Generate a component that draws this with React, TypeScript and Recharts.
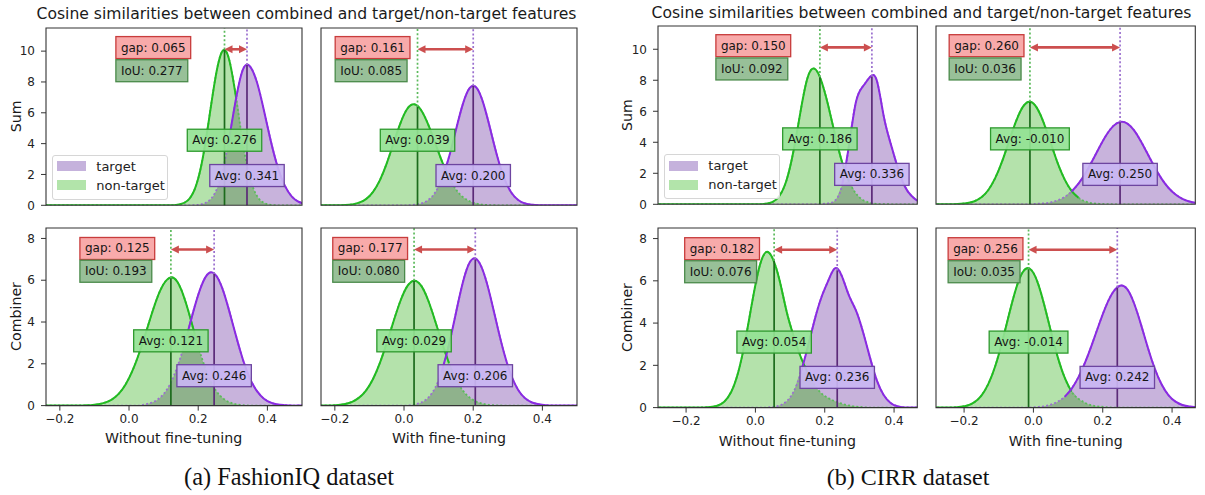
import React from 'react';
import { ComposedChart, Area, Line, XAxis, YAxis, ReferenceLine, ReferenceDot, ReferenceArea, Legend } from 'recharts';

// ---------------- data ----------------
const xGrid = [-0.29, -0.27, -0.25, -0.23, -0.21, -0.19, -0.17, -0.15, -0.13, -0.11, -0.09, -0.07, -0.05, -0.03, -0.01, 0.01, 0.03, 0.05, 0.07, 0.09, 0.11, 0.13, 0.15, 0.17, 0.19, 0.21, 0.23, 0.25, 0.27, 0.29, 0.31, 0.33, 0.35, 0.37, 0.39, 0.41, 0.43, 0.45, 0.47, 0.49, 0.51];

// FashionIQ
const fiqSumBaseNonTarget = [
  0, 0, 0, 0, 0, 0, 0, 0, 0, 0,
  0, 0, 0, 0, 0, 0, 0, 0, 0, 0,
  0, 0.01, 0.08, 0.32, 1.05, 2.7, 5.4, 8.3, 10.0, 9.4,
  6.9, 3.9, 1.75, 0.6, 0.16, 0.03, 0, 0, 0, 0,
  0];
const fiqSumBaseTarget = [
  0, 0, 0, 0, 0, 0, 0, 0, 0, 0,
  0, 0, 0, 0, 0, 0, 0, 0, 0, 0,
  0, 0, 0, 0, 0.01, 0.07, 0.28, 0.87, 2.2, 4.4,
  7.0, 8.85, 9.0, 7.96, 6.15, 4.16, 2.47, 1.29, 0.58, 0.23,
  0.08];
const fiqSumTunedNonTarget = [
  0, 0, 0, 0, 0, 0, 0.02, 0.06, 0.17, 0.40,
  0.86, 1.62, 2.72, 4.05, 5.35, 6.28, 6.55, 6.15, 5.23, 4.04,
  2.83, 1.79, 1.03, 0.54, 0.26, 0.11, 0.04, 0.01, 0, 0,
  0, 0, 0, 0, 0, 0, 0, 0, 0, 0,
  0];
const fiqSumTunedTarget = [
  0, 0, 0, 0, 0, 0, 0, 0, 0, 0,
  0, 0, 0, 0, 0, 0, 0.04, 0.12, 0.34, 0.83,
  1.73, 3.13, 4.88, 6.56, 7.61, 7.61, 6.56, 4.88, 3.13, 1.73,
  0.83, 0.34, 0.12, 0.04, 0.01, 0, 0, 0, 0, 0,
  0];
const fiqCombBaseNonTarget = [
  0, 0, 0, 0, 0, 0, 0, 0, 0.01, 0.02,
  0.06, 0.14, 0.29, 0.56, 1.01, 1.67, 2.54, 3.56, 4.61, 5.5,
  6.03, 6.1, 5.59, 4.61, 3.42, 2.3, 1.39, 0.75, 0.37, 0.16,
  0.06, 0.02, 0, 0, 0, 0, 0, 0, 0, 0,
  0];
const fiqCombBaseTarget = [
  0, 0, 0, 0, 0, 0, 0, 0, 0, 0,
  0, 0, 0, 0, 0, 0, 0, 0.07, 0.17, 0.39,
  0.78, 1.44, 2.37, 3.53, 4.75, 5.77, 6.33, 6.26, 5.6, 4.51,
  3.29, 2.16, 1.28, 0.69, 0.33, 0.14, 0.05, 0.02, 0, 0,
  0];
const fiqCombTunedNonTarget = [
  0, 0, 0, 0, 0.01, 0.03, 0.08, 0.18, 0.38, 0.72,
  1.26, 2.03, 3.0, 4.05, 5.03, 5.73, 5.98, 5.73, 5.03, 4.05,
  3.0, 2.03, 1.26, 0.72, 0.38, 0.18, 0.08, 0.03, 0.01, 0,
  0, 0, 0, 0, 0, 0, 0, 0, 0, 0,
  0];
const fiqCombTunedTarget = [
  0, 0, 0, 0, 0, 0, 0, 0, 0, 0,
  0, 0, 0, 0, 0, 0, 0.05, 0.15, 0.38, 0.85,
  1.69, 2.92, 4.43, 5.89, 6.86, 7.0, 6.37, 5.19, 3.78, 2.47,
  1.44, 0.75, 0.35, 0.15, 0.06, 0.02, 0, 0, 0, 0,
  0];

// CIRR
const cirrSumBaseNonTarget = [
  0, 0, 0, 0, 0, 0, 0, 0, 0, 0,
  0, 0, 0, 0, 0, 0, 0.04, 0.16, 0.57, 1.57,
  3.45, 5.96, 8.13, 8.75, 7.97, 6.37, 4.46, 2.73, 1.47, 0.69,
  0.28, 0.1, 0.03, 0.01, 0, 0, 0, 0, 0, 0,
  0];
const cirrSumBaseTarget = [
  0, 0, 0, 0, 0, 0, 0, 0, 0, 0,
  0, 0, 0, 0, 0, 0, 0, 0, 0, 0,
  0, 0, 0, 0, 0.02, 0.06, 0.25, 1.2, 3.8, 6.6,
  7.6, 8.2, 8.0, 5.7, 3.93, 2.4, 1.2, 0.55, 0.2, 0.06,
  0.02];
const cirrSumTunedNonTarget = [
  0, 0, 0, 0.01, 0.03, 0.08, 0.2, 0.45, 0.92, 1.7,
  2.78, 4.08, 5.36, 6.3, 6.62, 6.22, 5.24, 3.95, 2.66, 1.61,
  0.87, 0.42, 0.18, 0.07, 0.03, 0.01, 0, 0, 0, 0,
  0, 0, 0, 0, 0, 0, 0, 0, 0, 0,
  0];
const cirrSumTunedTarget = [
  0, 0, 0, 0, 0, 0, 0, 0, 0, 0,
  0, 0, 0, 0, 0, 0.03, 0.06, 0.13, 0.26, 0.47,
  0.82, 1.33, 2.0, 2.81, 3.66, 4.45, 5.04, 5.31, 5.22, 4.78,
  4.07, 3.23, 2.39, 1.64, 1.05, 0.63, 0.35, 0.18, 0.08, 0.03,
  0.01];
const cirrCombBaseNonTarget = [
  0, 0, 0, 0, 0, 0, 0, 0.01, 0.03, 0.09,
  0.28, 0.74, 1.65, 3.11, 4.93, 6.56, 7.35, 7.05, 6.0, 4.55,
  3.4, 2.43, 1.68, 1.08, 0.68, 0.45, 0.3, 0.18, 0.1, 0.05,
  0.02, 0, 0, 0, 0, 0, 0, 0, 0, 0,
  0];
const cirrCombBaseTarget = [
  0, 0, 0, 0, 0, 0, 0, 0, 0, 0,
  0, 0, 0, 0, 0, 0, 0, 0.03, 0.1, 0.3,
  0.75, 1.6, 2.8, 4.1, 5.2, 6.0, 6.6, 6.2, 5.3, 4.6,
  3.6, 2.4, 1.3, 0.6, 0.22, 0.06, 0.01, 0, 0, 0,
  0];
const cirrCombTunedNonTarget = [
  0, 0, 0, 0.01, 0.04, 0.1, 0.26, 0.57, 1.12, 1.97,
  3.12, 4.43, 5.64, 6.43, 6.57, 6.02, 4.94, 3.64, 2.4, 1.43,
  0.75, 0.42, 0.22, 0.1, 0.05, 0.02, 0, 0, 0, 0,
  0, 0, 0, 0, 0, 0, 0, 0, 0, 0,
  0];
const cirrCombTunedTarget = [
  0, 0, 0, 0, 0, 0, 0, 0, 0, 0,
  0, 0, 0, 0, 0, 0.03, 0.06, 0.14, 0.28, 0.51,
  0.89, 1.44, 2.17, 3.04, 3.97, 4.83, 5.47, 5.77, 5.62, 4.95,
  3.95, 2.84, 1.85, 1.09, 0.58, 0.28, 0.12, 0.05, 0.02, 0,
  0];

const xTicks = [-0.2, 0, 0.2, 0.4];
const sumYTicks = [0, 2, 4, 6, 8, 10];
const combYTicks = [0, 2, 4, 6, 8];

// per panel (A1, A2, A3, A4, B1, B2, B3, B4)
const avgNonTarget = [0.276, 0.039, 0.121, 0.029, 0.186, -0.010, 0.054, -0.014];
const avgTarget = [0.341, 0.200, 0.246, 0.206, 0.336, 0.250, 0.236, 0.242];
const avgNonTargetText = ['0.276', '0.039', '0.121', '0.029', '0.186', '-0.010', '0.054', '-0.014'];
const avgTargetText = ['0.341', '0.200', '0.246', '0.206', '0.336', '0.250', '0.236', '0.242'];
const gapText = ['0.065', '0.161', '0.125', '0.177', '0.150', '0.260', '0.182', '0.256'];
const iouText = ['0.277', '0.085', '0.193', '0.080', '0.092', '0.036', '0.076', '0.035'];
const nonTargetDensityAtAvg = [10.1, 6.4, 6.1, 5.98, 8.2, 6.62, 6.95, 6.55];
const targetDensityAtAvg = [9.1, 7.75, 6.3, 7.0, 8.25, 5.3, 6.5, 5.68];

const legendLabels = ['target', 'non-target'];
const titleText = 'Cosine similarities between combined and target/non-target features';
const captions = ['(a) FashionIQ dataset', '(b) CIRR dataset'];

const seriesByPanel = [
  [fiqSumBaseTarget, fiqSumBaseNonTarget],
  [fiqSumTunedTarget, fiqSumTunedNonTarget],
  [fiqCombBaseTarget, fiqCombBaseNonTarget],
  [fiqCombTunedTarget, fiqCombTunedNonTarget],
  [cirrSumBaseTarget, cirrSumBaseNonTarget],
  [cirrSumTunedTarget, cirrSumTunedNonTarget],
  [cirrCombBaseTarget, cirrCombBaseNonTarget],
  [cirrCombTunedTarget, cirrCombTunedNonTarget],
];

// ---------------- layout / style ----------------
const FONT = "'DejaVu Sans', 'Noto Sans', sans-serif";
const C = {
  targetFill: '#c8b3dc',
  nonFill: '#b4e2ab',
  overlapFill: '#8fb28c',
  targetLine: '#8a2be2',
  nonLine: '#22bb22',
  targetDot: '#9b70cf',
  nonDot: '#5cba5c',
  targetVert: '#5b2a78',
  nonVert: '#1c6b1c',
  arrow: '#cc4f4f',
  legendTarget: '#c5b2dc',
  legendNon: '#b2e4aa',
};

const sumLevels = { arrow: 10.12, gap: 10.23, iou: 8.73, avgN: 4.22, avgT: 1.93 };
const combLevels = { arrow: 7.47, gap: 7.52, iou: 6.43, avgN: 3.1, avgT: 1.43 };
const domA: [number, number] = [-0.24, 0.5];
const domB: [number, number] = [-0.281, 0.467];

const layouts = [
  { left: 45.7, top: 27.7, w: 256, h: 177.3, xDomain: domA, yMax: 11.5, yTicks: sumYTicks, xLabels: false, yLabels: true, legend: true, gapLeft: -0.038, lv: sumLevels },
  { left: 321, top: 27.7, w: 256, h: 177.3, xDomain: domA, yMax: 11.5, yTicks: sumYTicks, xLabels: false, yLabels: false, legend: false, gapLeft: -0.199, lv: sumLevels },
  { left: 45.7, top: 227.7, w: 256, h: 177.6, xDomain: domA, yMax: 8.5, yTicks: combYTicks, xLabels: true, yLabels: true, legend: false, gapLeft: -0.142, lv: combLevels },
  { left: 321, top: 227.7, w: 256, h: 177.6, xDomain: domA, yMax: 8.5, yTicks: combYTicks, xLabels: true, yLabels: false, legend: false, gapLeft: -0.206, lv: combLevels },
  { left: 657.7, top: 26, w: 259.3, h: 178.3, xDomain: domB, yMax: 11.5, yTicks: sumYTicks, xLabels: false, yLabels: true, legend: true, gapLeft: -0.114, lv: sumLevels },
  { left: 936, top: 26, w: 259.3, h: 178.3, xDomain: domB, yMax: 11.5, yTicks: sumYTicks, xLabels: false, yLabels: false, legend: false, gapLeft: -0.243, lv: sumLevels },
  { left: 657.7, top: 227.7, w: 259.3, h: 179.6, xDomain: domB, yMax: 8.5, yTicks: combYTicks, xLabels: true, yLabels: true, legend: false, gapLeft: -0.204, lv: combLevels },
  { left: 936, top: 227.7, w: 259.3, h: 179.6, xDomain: domB, yMax: 8.5, yTicks: combYTicks, xLabels: true, yLabels: false, legend: false, gapLeft: -0.246, lv: combLevels },
];

let _ctx: any = null;
function textWidth(s: string, size: number) {
  if (!_ctx && typeof document !== 'undefined') _ctx = document.createElement('canvas').getContext('2d');
  if (!_ctx) return s.length * size * 0.6;
  _ctx.font = `${size}px "DejaVu Sans"`;
  return _ctx.measureText(s).width;
}

const LABEL_FS = 12;
function LabelBox({ cx, cy, text, fill, stroke, align }: any) {
  if (cx == null || cy == null) return null;
  const tw = textWidth(text, LABEL_FS);
  const w = tw + 10;
  const h = 22;
  const x = align === 'left' ? cx : cx - w / 2;
  return (
    <g>
      <rect x={x} y={cy - h / 2} width={w} height={h} fill={fill} fillOpacity={0.92} stroke={stroke} strokeWidth={1.3} />
      <text x={x + w / 2} y={cy + 0.33 * LABEL_FS} textAnchor="middle" fontSize={LABEL_FS} fontFamily={FONT} fill="#151515">{text}</text>
    </g>
  );
}

function ArrowShape(p: any) {
  const x1 = Math.min(p.x1, p.x2);
  const x2 = Math.max(p.x1, p.x2);
  const y = p.y1;
  const hl = 8;
  const hw = 4;
  return (
    <g>
      <line x1={x1 + hl * 0.7} x2={x2 - hl * 0.7} y1={y} y2={y} stroke={C.arrow} strokeWidth={2.6} />
      <polygon points={`${x1},${y} ${x1 + hl},${y - hw} ${x1 + hl},${y + hw}`} fill={C.arrow} />
      <polygon points={`${x2},${y} ${x2 - hl},${y - hw} ${x2 - hl},${y + hw}`} fill={C.arrow} />
    </g>
  );
}

function LegendBox() {
  const colors = [C.legendTarget, C.legendNon];
  return (
    <div style={{ width: 116, height: 45, boxSizing: 'border-box', border: '1px solid #d6d6d6', borderRadius: 3, background: 'rgba(255,255,255,0.85)', padding: '1px 0 0 4px', fontFamily: FONT, fontSize: 13, color: '#222' }}>
      {legendLabels.map((lab, i) => (
        <div key={lab} style={{ display: 'flex', alignItems: 'center', height: 19 }}>
          <span style={{ display: 'inline-block', width: 29, height: 10, background: colors[i], marginRight: 10 }} />
          <span style={{ lineHeight: '19px', whiteSpace: 'nowrap' }}>{lab}</span>
        </div>
      ))}
    </div>
  );
}

function buildRows(target: number[], non: number[]) {
  const c = target.findIndex((v, i) => v > non[i]);
  return xGrid.map((x, i) => ({
    x,
    t: target[i],
    n: non[i],
    tLine: target[i],
    nLine: non[i],
    ov: Math.min(target[i], non[i]),
    nSolid: i <= c ? non[i] : null,
    tSolid: i >= c - 1 ? target[i] : null,
  }));
}

const fmtX = (v: number) => (Math.abs(v) < 1e-9 ? '0.0' : v < 0 ? '\u2212' + Math.abs(v).toFixed(1) : v.toFixed(1));
const tickStyle = { fontSize: 12, fontFamily: FONT, fill: '#222' };

function Panel({ idx }: { idx: number }) {
  const L = layouts[idx];
  const [target, non] = seriesByPanel[idx];
  const rows = buildRows(target, non);
  const lv = L.lv;
  const aN = avgNonTarget[idx];
  const aT = avgTarget[idx];
  const hN = nonTargetDensityAtAvg[idx];
  const hT = targetDensityAtAvg[idx];
  return (
    <div style={{ position: 'absolute', left: L.left - 40, top: L.top - 10 }}>
      <ComposedChart width={L.w + 50} height={L.h + 50} data={rows} margin={{ top: 10, right: 10, bottom: 0, left: 0 }}>
        <XAxis dataKey="x" type="number" domain={L.xDomain} allowDataOverflow ticks={xTicks} interval={0} tickFormatter={fmtX} height={40}
          tick={L.xLabels ? tickStyle : false} tickSize={5} tickMargin={4.2} axisLine={false} tickLine={{ stroke: '#333', strokeWidth: 1 }} />
        <YAxis type="number" domain={[0, L.yMax]} allowDataOverflow ticks={L.yTicks} interval={0} width={40}
          tick={L.yLabels ? tickStyle : false} tickSize={5} tickMargin={6} axisLine={false} tickLine={{ stroke: '#333', strokeWidth: 1 }} />
        <Area type="natural" dataKey="t" name="target" fill={C.targetFill} fillOpacity={1} stroke="none" isAnimationActive={false} />
        <Area type="natural" dataKey="n" name="non-target" fill={C.nonFill} fillOpacity={1} stroke="none" isAnimationActive={false} />
        <Area type="monotone" dataKey="ov" legendType="none" fill={C.overlapFill} fillOpacity={1} stroke="none" isAnimationActive={false} />
        <Line type="natural" dataKey="nLine" legendType="none" stroke={C.nonDot} strokeWidth={1.8} strokeDasharray="2 2.2" dot={false} activeDot={false} isAnimationActive={false} />
        <Line type="natural" dataKey="tLine" legendType="none" stroke={C.targetDot} strokeWidth={1.8} strokeDasharray="2 2.2" dot={false} activeDot={false} isAnimationActive={false} />
        <Line type="natural" dataKey="nSolid" legendType="none" stroke={C.nonLine} strokeWidth={2} dot={false} activeDot={false} connectNulls={false} isAnimationActive={false} />
        <Line type="natural" dataKey="tSolid" legendType="none" stroke={C.targetLine} strokeWidth={2} dot={false} activeDot={false} connectNulls={false} isAnimationActive={false} />
        <ReferenceLine ifOverflow="visible" zIndex={700} segment={[{ x: aN, y: 0 }, { x: aN, y: hN }]} stroke={C.nonVert} strokeWidth={1.7} />
        <ReferenceLine ifOverflow="visible" zIndex={700} segment={[{ x: aN, y: hN }, { x: aN, y: L.yMax }]} stroke={C.nonDot} strokeWidth={1.7} strokeDasharray="2 2.2" />
        <ReferenceLine ifOverflow="visible" zIndex={700} segment={[{ x: aT, y: 0 }, { x: aT, y: hT }]} stroke={C.targetVert} strokeWidth={1.7} />
        <ReferenceLine ifOverflow="visible" zIndex={700} segment={[{ x: aT, y: hT }, { x: aT, y: L.yMax }]} stroke={C.targetDot} strokeWidth={1.7} strokeDasharray="2 2.2" />
        <ReferenceLine ifOverflow="visible" zIndex={750} segment={[{ x: aN, y: lv.arrow }, { x: aT, y: lv.arrow }]} shape={ArrowShape} />
        <ReferenceDot ifOverflow="visible" zIndex={800} x={L.gapLeft} y={lv.gap} r={0}
          shape={(p: any) => <LabelBox cx={p.cx} cy={p.cy} align="left" text={`gap: ${gapText[idx]}`} fill="#f7a3a3" stroke="#c83c3c" />} />
        <ReferenceDot ifOverflow="visible" zIndex={800} x={L.gapLeft} y={lv.iou} r={0}
          shape={(p: any) => <LabelBox cx={p.cx} cy={p.cy} align="left" text={`IoU: ${iouText[idx]}`} fill="#8fbb8f" stroke="#4a8a4a" />} />
        <ReferenceDot ifOverflow="visible" zIndex={800} x={aN} y={lv.avgN} r={0}
          shape={(p: any) => <LabelBox cx={p.cx} cy={p.cy} align="center" text={`Avg: ${avgNonTargetText[idx]}`} fill="#94e294" stroke="#2e9a2e" />} />
        <ReferenceDot ifOverflow="visible" zIndex={800} x={aT} y={lv.avgT} r={0}
          shape={(p: any) => <LabelBox cx={p.cx} cy={p.cy} align="center" text={`Avg: ${avgTargetText[idx]}`} fill="#c9b6f2" stroke="#6d45a0" />} />
        <ReferenceArea ifOverflow="visible" zIndex={900} x1={L.xDomain[0]} x2={L.xDomain[1]} y1={0} y2={L.yMax} fill="none" stroke="#333" strokeWidth={1.1} />
        {L.legend ? (
          <Legend layout="horizontal" verticalAlign="middle" align="center" content={() => <LegendBox />}
            wrapperStyle={{ left: 46.6, top: L.h - 40, width: 116, height: 45 }} />
        ) : null}
      </ComposedChart>
    </div>
  );
}

export default function App() {
  const textProps = { fontFamily: FONT, fill: '#1a1a1a' };
  const AX = 14.2;
  return (
    <div style={{ position: 'absolute', left: 0, top: 0, width: 1205, height: 495, background: '#fff', overflow: 'hidden' }}>
      <svg width={1205} height={495} style={{ position: 'absolute', left: 0, top: 0 }}>
        <text x={306.5} y={18.7} textAnchor="middle" fontSize={15.6} {...textProps}>{titleText}</text>
        <text x={921.5} y={18.1} textAnchor="middle" fontSize={15.6} {...textProps}>{titleText}</text>
        <text transform="translate(20.7,116.4) rotate(-90)" textAnchor="middle" fontSize={AX} {...textProps}>Sum</text>
        <text transform="translate(20.7,316.5) rotate(-90)" textAnchor="middle" fontSize={AX} {...textProps}>Combiner</text>
        <text transform="translate(631.5,115.2) rotate(-90)" textAnchor="middle" fontSize={AX} {...textProps}>Sum</text>
        <text transform="translate(631.5,317.5) rotate(-90)" textAnchor="middle" fontSize={AX} {...textProps}>Combiner</text>
        <text x={173.7} y={443} textAnchor="middle" fontSize={AX} {...textProps}>Without fine-tuning</text>
        <text x={449} y={443} textAnchor="middle" fontSize={AX} {...textProps}>With fine-tuning</text>
        <text x={787.4} y={445.5} textAnchor="middle" fontSize={AX} {...textProps}>Without fine-tuning</text>
        <text x={1065.7} y={445.5} textAnchor="middle" fontSize={AX} {...textProps}>With fine-tuning</text>
        <text x={289} y={485} textAnchor="middle" fontSize={24.4} fontFamily="'Liberation Serif', serif" fill="#111">{captions[0]}</text>
        <text x={908} y={485} textAnchor="middle" fontSize={24} fontFamily="'Liberation Serif', serif" fill="#111">{captions[1]}</text>
      </svg>
      {layouts.map((_, i) => <Panel key={i} idx={i} />)}
    </div>
  );
}
